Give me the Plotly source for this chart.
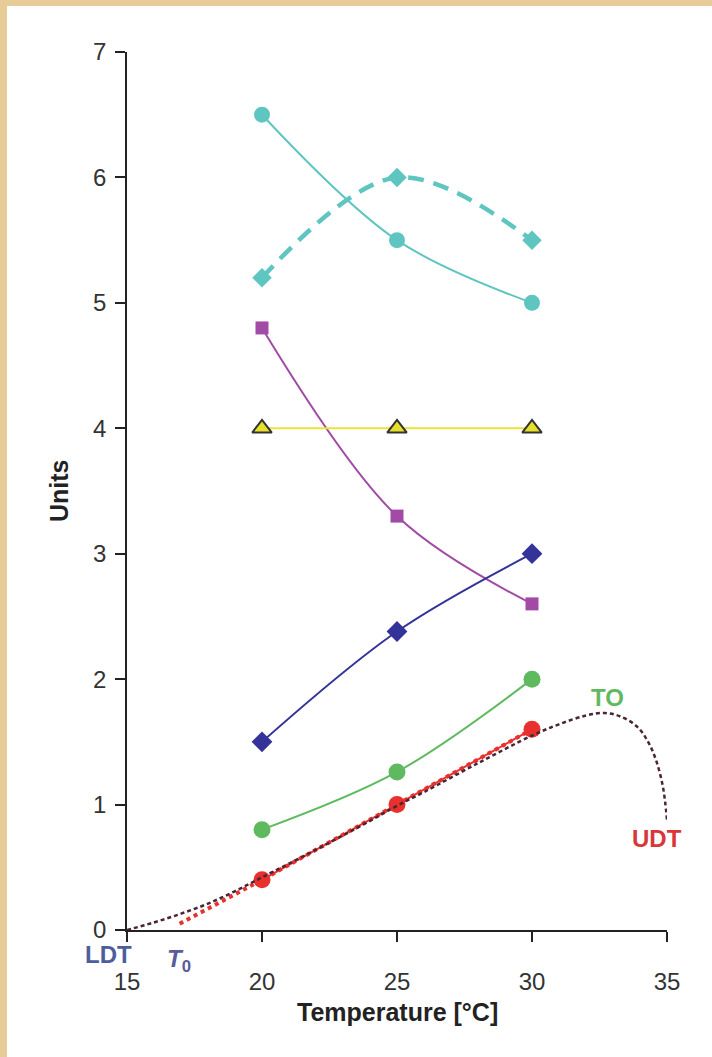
import plotly.graph_objects as go

temps = [20, 25, 30]
cyan_circle = [6.5, 5.5, 5.0]
cyan_diamond = [5.2, 6.0, 5.5]
purple_square = [4.8, 3.3, 2.6]
yellow_triangle = [4.0, 4.0, 4.0]
navy_diamond = [1.5, 2.38, 3.0]
green_circle = [0.8, 1.26, 2.0]
red_circle = [0.4, 1.0, 1.6]

red_ext_x = [16.95, 20, 25, 30]
red_ext_y = [0.05, 0.4, 1.0, 1.6]

curve_x = [15, 16, 17, 18, 19, 20, 22, 24, 25, 26, 28, 30, 31, 32, 32.7, 33.3, 33.9, 34.3, 34.6, 34.85, 35.0]
curve_y = [0.0, 0.06, 0.13, 0.21, 0.31, 0.42, 0.64, 0.87, 0.99, 1.1, 1.33, 1.55, 1.64, 1.71, 1.73, 1.70, 1.62, 1.5, 1.35, 1.14, 0.88]

x_ticks = [15, 20, 25, 30, 35]
y_ticks = [0, 1, 2, 3, 4, 5, 6, 7]

FONT = "Liberation Sans, Arial, sans-serif"
CYAN = "#5fc5c1"
PURPLE = "#a24ba6"
YELLOW = "#ece23a"
NAVY = "#33339a"
GREEN = "#5fba5f"
RED = "#e8302c"
DARK = "#4a2536"

fig = go.Figure()

fig.add_trace(go.Scatter(x=red_ext_x, y=red_ext_y, mode="lines",
                         line=dict(color=RED, width=4, dash="dot")))
fig.add_trace(go.Scatter(x=temps, y=cyan_circle, mode="lines+markers",
                         line=dict(color=CYAN, width=2, shape="spline"),
                         marker=dict(symbol="circle", size=16, color=CYAN)))
fig.add_trace(go.Scatter(x=temps, y=cyan_diamond, mode="lines+markers",
                         line=dict(color=CYAN, width=4.5, shape="spline", dash="16px,10px"),
                         marker=dict(symbol="diamond", size=15, color=CYAN)))
fig.add_trace(go.Scatter(x=temps, y=purple_square, mode="lines+markers",
                         line=dict(color=PURPLE, width=2, shape="spline"),
                         marker=dict(symbol="square", size=13, color=PURPLE)))
fig.add_trace(go.Scatter(x=temps, y=yellow_triangle, mode="lines+markers",
                         line=dict(color=YELLOW, width=2),
                         marker=dict(symbol="triangle-up", size=17, color="#e6e02a",
                                     line=dict(color="#333333", width=2))))
fig.add_trace(go.Scatter(x=temps, y=navy_diamond, mode="lines+markers",
                         line=dict(color=NAVY, width=2, shape="spline"),
                         marker=dict(symbol="diamond", size=16, color=NAVY)))
fig.add_trace(go.Scatter(x=temps, y=green_circle, mode="lines+markers",
                         line=dict(color=GREEN, width=2, shape="spline"),
                         marker=dict(symbol="circle", size=17, color=GREEN)))
fig.add_trace(go.Scatter(x=temps, y=red_circle, mode="lines+markers",
                         line=dict(color=RED, width=2),
                         marker=dict(symbol="circle", size=17, color=RED)))
fig.add_trace(go.Scatter(x=curve_x, y=curve_y, mode="lines",
                         line=dict(color=DARK, width=2.5, dash="4px,3px", shape="spline")))

# background panel
fig.add_shape(type="rect", xref="paper", yref="paper",
              x0=(7 - 127) / 540, x1=(720 - 127) / 540,
              y0=(930 - 1070) / 878, y1=(930 - 6) / 878,
              fillcolor="white", line=dict(width=0), layer="below")


def px_x(p):
    return (p - 127) / 540


def px_y(p):
    return (930 - p) / 878


def label(text, x, y, color, size=24, angle=0):
    fig.add_annotation(x=px_x(x), y=px_y(y), xref="paper", yref="paper",
                       text=text, showarrow=False, textangle=angle,
                       xanchor="center", yanchor="middle",
                       font=dict(family=FONT, size=size, color=color))


label("<b>Temperature [°C]</b>", 397, 1012, "#222222", size=25)
label("<b>Units</b>", 59, 491, "#222222", size=25, angle=-90)
label("<b>LDT</b>", 108, 955, "#4d5e9c")
label("<b><i>T</i><sub>0</sub></b>", 179, 960, "#5a5c9c")
label("<b>TO</b>", 607, 697, "#62b862")
label("<b>UDT</b>", 657, 838, "#d9363a")

fig.update_layout(
    width=712, height=1057,
    margin=dict(l=127, r=45, t=52, b=127),
    paper_bgcolor="#e8cc98",
    plot_bgcolor="rgba(0,0,0,0)",
    showlegend=False,
    font=dict(family=FONT, size=24, color="#333333"),
)
fig.update_xaxes(range=[15, 35], tickvals=x_ticks, ticktext=[str(v) for v in x_ticks],
                 showgrid=False, zeroline=False, showline=True, linecolor="#222222",
                 linewidth=1.5, ticks="outside", ticklen=10, tickwidth=1.5,
                 tickcolor="#222222", ticklabelstandoff=19,
                 tickfont=dict(family=FONT, size=24, color="#333333"))
fig.update_yaxes(range=[0, 7], tickvals=y_ticks, ticktext=[str(v) for v in y_ticks],
                 showgrid=False, zeroline=False, showline=True, linecolor="#222222",
                 linewidth=1.5, ticks="outside", ticklen=10, tickwidth=1.5,
                 tickcolor="#222222", ticklabelstandoff=4,
                 tickfont=dict(family=FONT, size=24, color="#333333"))

fig.write_html("out.html")
